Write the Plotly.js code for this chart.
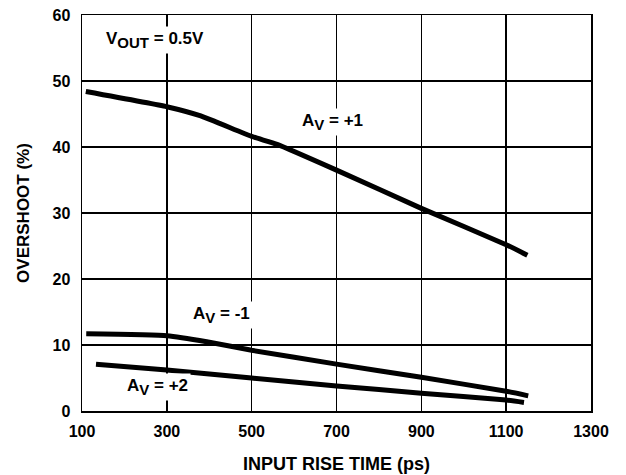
<!DOCTYPE html>
<html><head><meta charset="utf-8">
<script src="https://cdn.plot.ly/plotly-3.0.1.min.js"></script>
<style>html,body{margin:0;padding:0;background:#fff}#chart{width:626px;height:475px}</style>
</head><body><div id="chart"></div>
<script>
const riseAv1 = [109, 300, 380, 500, 560, 700, 900, 1100, 1150];
const overAv1 = [48.4, 46.1, 44.7, 41.6, 40.4, 36.5, 30.7, 25.2, 23.6];
const riseAvM1 = [110, 300, 394, 500, 700, 900, 1100, 1152];
const overAvM1 = [11.7, 11.4, 10.5, 9.2, 7.1, 5.1, 3.0, 2.3];
const riseAv2 = [133, 300, 500, 700, 900, 1100, 1142];
const overAv2 = [7.1, 6.2, 5.0, 3.8, 2.7, 1.65, 1.3];
const xTicks = [100, 300, 500, 700, 900, 1100, 1300];
const yTicks = [0, 10, 20, 30, 40, 50, 60];

const lineStyle = {color: '#000', width: 5, shape: 'spline', smoothing: 0.4};
const data = [
  {x: riseAv1, y: overAv1, mode: 'lines', line: lineStyle, hoverinfo: 'skip'},
  {x: riseAvM1, y: overAvM1, mode: 'lines', line: lineStyle, hoverinfo: 'skip'},
  {x: riseAv2, y: overAv2, mode: 'lines', line: lineStyle, hoverinfo: 'skip'}
];
const fam = 'Liberation Sans, Arial, sans-serif';
const annFont = {family: fam, color: '#000', size: 17};
const sub = s => '<sub><span style="font-size:15px">' + s + '</span></sub>';
const layout = {
  width: 626, height: 475,
  margin: {l: 82, r: 35, t: 15, b: 64},
  paper_bgcolor: '#fff', plot_bgcolor: '#fff',
  showlegend: false,
  font: {family: fam, color: '#000'},
  xaxis: {
    range: [100, 1300], tickvals: xTicks, ticktext: xTicks.map(v => '<b>' + v + '</b>'),
    showgrid: true, gridcolor: '#000', gridwidth: 1.5,
    showline: true, linecolor: '#000', linewidth: 1.5, mirror: true,
    zeroline: false, ticks: '', ticklen: 0, ticklabelstandoff: 5,
    tickfont: {family: fam, size: 16, color: '#000'},
    title: {text: '<b>INPUT RISE TIME (ps)</b>', font: {family: fam, size: 18, color: '#000'}, standoff: 18}
  },
  yaxis: {
    range: [0, 60], tickvals: yTicks, ticktext: yTicks.map(v => '<b>' + v + '</b>'),
    showgrid: true, gridcolor: '#000', gridwidth: 1.5,
    showline: true, linecolor: '#000', linewidth: 1.5, mirror: true,
    zeroline: false, ticks: '', ticklen: 0, ticklabelstandoff: 7,
    tickfont: {family: fam, size: 16, color: '#000'},
    title: {text: '<b>OVERSHOOT (%)</b>', font: {family: fam, size: 17, color: '#000'}, standoff: 18}
  },
  annotations: [
    {x: 150, y: 56.2, xref: 'x', yref: 'y', text: '<b>V' + sub('OUT') + ' = 0.5V</b>', showarrow: false, font: annFont, bgcolor: '#fff', xanchor: 'left', borderpad: 2},
    {x: 690, y: 43.8, xref: 'x', yref: 'y', text: '<b>A' + sub('V') + ' = +1</b>', showarrow: false, font: annFont, bgcolor: '#fff', borderpad: 2},
    {x: 429, y: 14.5, xref: 'x', yref: 'y', text: '<b>A' + sub('V') + ' = -1</b>', showarrow: false, font: annFont, bgcolor: '#fff', borderpad: 2},
    {x: 279, y: 3.6, xref: 'x', yref: 'y', text: '<b>A' + sub('V') + ' = +2</b>', showarrow: false, font: annFont, bgcolor: '#fff', borderpad: 2}
  ]
};
Plotly.newPlot('chart', data, layout, {displayModeBar: false, staticPlot: true});
</script></body></html>
